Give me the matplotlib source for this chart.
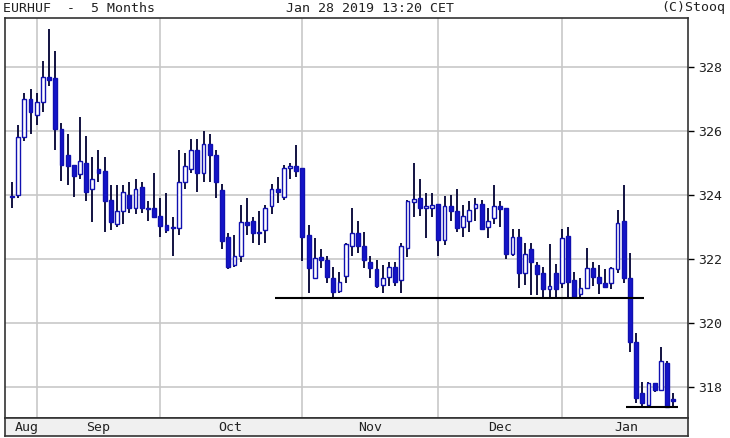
import matplotlib
matplotlib.use("Agg")
import matplotlib.pyplot as plt
from matplotlib.patches import Rectangle

# OHLC (daily candles)
opens = [323.94,324.0,325.8,327.0,326.5,326.9,327.7,327.65,326.05,325.25,324.95,324.65,325.0,324.2,324.8,324.75,323.85,323.1,323.5,324.0,
         323.6,324.25,323.6,323.6,323.35,323.06,322.97,322.97,324.4,324.8,325.4,324.7,325.6,325.25,324.15,322.7,321.8,322.1,323.16,323.2,
         322.85,322.9,323.65,324.2,323.95,324.85,324.9,324.85,322.75,321.4,322.06,321.97,321.4,321.0,321.47,322.4,322.8,322.4,321.9,321.7,
         321.2,321.44,321.75,321.34,322.34,323.78,323.9,323.6,323.6,323.72,322.6,323.65,323.5,323.0,323.2,323.6,323.72,323.0,323.28,323.66,
         323.6,322.15,322.7,321.56,322.3,321.8,321.56,321.06,321.56,321.25,322.72,321.34,320.9,321.1,321.72,321.44,321.25,321.25,321.69,323.19,
         321.4,319.4,317.8,317.44,318.12,317.9,318.75,317.62]
closes = [323.96,325.8,327.0,326.6,326.9,327.7,327.6,326.05,324.95,324.9,324.6,325.06,324.1,324.5,324.7,323.8,323.15,323.5,324.1,323.6,
          324.2,323.6,323.55,323.3,323.03,322.9,322.99,324.4,324.9,325.4,324.7,325.6,325.25,324.4,322.55,321.75,322.1,323.16,323.06,322.8,
          322.8,323.6,324.2,324.1,324.85,324.9,324.75,322.7,321.72,322.03,321.97,321.44,320.97,321.28,322.47,322.8,322.4,321.97,321.72,321.15,
          321.4,321.75,321.28,322.4,323.8,323.88,323.6,323.62,323.7,322.6,323.65,323.5,322.97,323.35,323.53,323.72,322.94,323.2,323.66,323.56,
          322.15,322.7,321.56,322.15,321.9,321.53,321.06,321.16,321.06,322.66,321.28,320.8,321.1,321.72,321.44,321.25,321.13,321.72,323.13,321.4,
          319.4,317.66,317.5,318.12,317.9,318.8,317.38,317.56]
highs = [324.4,326.2,327.2,327.3,327.2,328.2,329.2,328.5,326.25,325.9,324.95,326.45,325.85,325.2,325.4,325.2,324.3,324.3,324.3,324.4,
         324.5,324.4,323.8,324.7,323.9,324.05,323.3,325.4,325.3,325.75,325.75,326.0,325.9,325.4,324.35,322.8,322.75,323.7,323.9,323.3,
         323.5,323.7,324.35,324.55,324.95,325.0,325.55,324.85,323.05,322.65,322.3,322.1,321.75,321.6,322.5,323.6,323.2,322.85,322.1,321.97,
         321.8,321.9,321.9,322.5,323.85,325.0,324.5,324.06,324.06,323.72,323.97,324.0,324.2,323.7,323.8,323.9,323.85,323.6,324.3,323.8,
         323.6,322.94,322.94,322.5,322.5,321.9,321.75,322.47,321.85,322.94,323.0,321.6,321.4,322.34,321.9,321.8,321.68,321.75,323.53,324.3,
         322.2,319.7,318.15,318.15,318.12,319.25,318.8,317.8]
lows = [323.6,323.9,325.7,325.9,326.2,326.6,327.4,325.4,324.45,324.3,323.95,324.5,323.8,323.15,324.4,322.85,322.9,323.0,323.1,323.45,
        323.4,323.45,323.2,323.3,322.7,322.8,322.1,322.75,324.2,324.7,324.1,324.4,324.4,323.9,322.3,321.7,321.75,321.9,322.75,322.5,
        322.45,322.5,323.4,323.75,323.85,324.5,324.55,321.95,320.95,321.4,321.72,321.25,320.8,320.94,321.25,322.1,322.2,321.72,321.4,321.1,
        320.94,321.15,321.15,320.94,322.06,323.3,323.35,322.65,323.3,322.1,322.44,323.2,322.85,322.7,322.85,323.2,322.9,322.65,323.1,323.0,
        322.0,322.1,321.1,321.2,320.87,320.87,320.75,320.8,320.8,321.1,320.8,320.8,320.8,321.1,321.15,320.9,321.1,321.05,321.55,321.25,
        319.1,317.5,317.4,317.4,317.85,317.9,317.35,317.35]

month_labels = ["Aug", "Sep", "Oct", "Nov", "Dec", "Jan"]
month_label_pos = [2.4, 13.9, 35.4, 57.9, 79.0, 99.4]
month_grid_pos = [4.05, 24.0, 46.9, 68.9, 89.0]
support_levels = [(42.6, 102.3, 320.79), (99.4, 107.8, 317.36)]
yticks = [318, 320, 322, 324, 326, 328]

W, H = 730, 438
fig = plt.figure(figsize=(W/100, H/100), dpi=100)
ax = fig.add_axes([5/W, (H-418)/H, 683/W, 400/H])
ax.set_xlim(-1.13, 109.4)
ax.set_ylim(317.03, 329.53)

for g in month_grid_pos:
    ax.axvline(g, color="#c8c8c8", lw=1.2, zorder=0)
for t in yticks:
    ax.axhline(t, color="#c8c8c8", lw=1.2, zorder=0)

bw = 0.62
for i, (o, h, l, c) in enumerate(zip(opens, highs, lows, closes)):
    ax.vlines(i, l, h, color="#000033", lw=1.3, zorder=2)
    lo, hi = min(o, c), max(o, c)
    hgt = max(hi - lo, 0.04)
    if c >= o:
        rect = Rectangle((i - bw/2, lo), bw, hgt, facecolor="white", edgecolor="#1010b0", lw=1.0, zorder=3)
    else:
        rect = Rectangle((i - bw/2, lo), bw, hgt, facecolor="#1414c8", edgecolor="#1010b0", lw=1.0, zorder=3)
    ax.add_patch(rect)

for x0, x1, lvl in support_levels:
    ax.hlines(lvl, x0, x1, color="black", lw=1.5, zorder=4)

ax.set_xticks([])
ax.yaxis.tick_right()
ax.set_yticks(yticks)
ax.set_yticklabels([str(t) for t in yticks], family="DejaVu Sans Mono", fontsize=9.5, color="#222222")
ax.tick_params(axis="y", length=4, width=1, pad=3)
for s in ax.spines.values():
    s.set_color("#333333")
    s.set_linewidth(1.2)

# bottom month strip
ax2 = fig.add_axes([5/W, (H-436)/H, 683/W, 18/H])
ax2.set_xlim(ax.get_xlim())
ax2.set_ylim(0, 1)
ax2.set_facecolor("#f0f0f0")
ax2.set_xticks([]); ax2.set_yticks([])
for s in ax2.spines.values():
    s.set_color("#333333"); s.set_linewidth(1.2)
for lab, p in zip(month_labels, month_label_pos):
    ax2.text(p, 0.45, lab, ha="center", va="center", family="DejaVu Sans Mono", fontsize=9.5, color="#222222")

fig.text(3/W, 1 - 8/H, "EURHUF  -  5 Months", ha="left", va="center", family="DejaVu Sans Mono", fontsize=9.5, color="#222222")
fig.text(370/W, 1 - 8/H, "Jan 28 2019 13:20 CET", ha="center", va="center", family="DejaVu Sans Mono", fontsize=9.5, color="#222222")
fig.text(725/W, 1 - 8/H, "(C)Stooq", ha="right", va="center", family="DejaVu Sans Mono", fontsize=9.5, color="#222222")

fig.savefig("out.png", dpi=100)
